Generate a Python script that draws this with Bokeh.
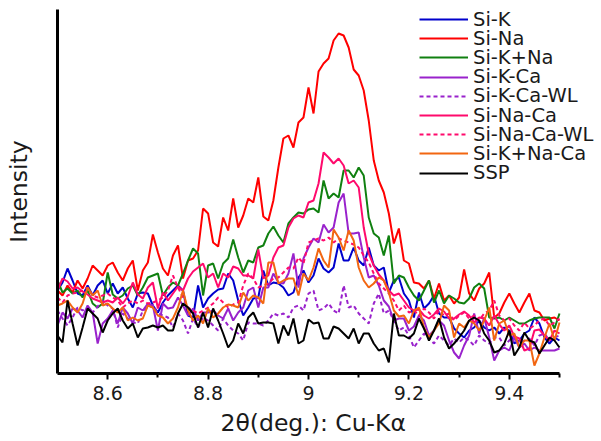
import numpy as np
from bokeh.plotting import figure
from bokeh.models import (Range1d, FixedTicker, CustomJSTickFormatter, Legend,
                          LegendItem, Title)
from bokeh.embed import file_html
from bokeh.resources import INLINE

# 2-theta scan grid (deg), step 0.01
two_theta = np.round(np.arange(8.50, 9.505, 0.01), 2)

si_k = [110, 118, 132, 120, 107, 105, 115, 105, 115, 120,
        107, 117, 107, 113, 102, 93, 107, 108, 107, 95,
        88, 98, 105, 110, 115, 110, 85, 83, 115, 93,
        102, 107, 111, 112, 127, 120, 100, 85, 93, 102,
        103, 130, 115, 118, 117, 113, 105, 108, 123, 130,
        118, 125, 142, 132, 128, 133, 157, 140, 140, 153,
        140, 135, 153, 135, 130, 133, 108, 120, 123, 107,
        100, 83, 108, 92, 97, 105, 87, 83, 83, 72,
        67, 63, 70, 73, 80, 73, 70, 73, 67, 73,
        70, 57, 60, 67, 70, 83, 77, 63, 57, 63, 60]

si_na = [110, 105, 115, 108, 120, 112, 122, 135, 130, 125,
         135, 138, 128, 120, 132, 140, 110, 130, 138, 166,
         148, 132, 125, 145, 155, 122, 140, 142, 150, 192,
         187, 158, 154, 183, 170, 202, 173, 185, 202, 198,
         223, 184, 180, 200, 233, 262, 265, 253, 278, 283,
         313, 287, 329, 337, 342, 360, 367, 365, 353, 331,
         325, 310, 280, 240, 220, 208, 187, 157, 172, 140,
         137, 118, 117, 112, 120, 102, 117, 100, 105, 97,
         103, 131, 107, 100, 112, 117, 128, 83, 87, 98,
         107, 97, 88, 98, 107, 90, 88, 80, 82, 83, 80]

si_k_na = [120, 108, 112, 107, 110, 103, 110, 97, 93, 97,
           128, 106, 102, 105, 112, 115, 105, 113, 123, 125,
           127, 105, 113, 118, 115, 127, 140, 152, 147, 105,
           135, 137, 122, 137, 142, 161, 143, 128, 140, 138,
           153, 155, 167, 174, 165, 158, 177, 183, 188, 187,
           191, 192, 188, 220, 202, 207, 203, 230, 230, 223,
           233, 225, 183, 167, 163, 145, 165, 117, 125, 123,
           113, 105, 100, 110, 120, 98, 110, 97, 105, 102,
           98, 97, 102, 113, 117, 112, 83, 82, 83, 80,
           83, 80, 77, 77, 80, 82, 83, 83, 83, 72, 87]

si_k_ca = [75, 88, 82, 92, 90, 83, 95, 88, 57, 77,
           82, 90, 77, 93, 87, 77, 93, 90, 97, 95,
           70, 97, 92, 93, 103, 95, 85, 92, 80, 88,
           88, 90, 85, 82, 92, 80, 88, 93, 110, 113,
           93, 113, 113, 127, 118, 117, 127, 147, 113, 142,
           153, 162, 158, 176, 168, 173, 198, 207, 167, 167,
           168, 143, 123, 125, 115, 100, 94, 80, 82, 82,
           70, 74, 85, 80, 65, 70, 80, 75, 60, 48,
           42, 55, 65, 87, 67, 83, 63, 40, 50, 53,
           50, 63, 53, 57, 50, 53, 50, 50, 50, 50, 52]

si_k_ca_wl = [90, 82, 75, 83, 93, 90, 93, 88, 94, 100,
              95, 92, 73, 87, 82, 78, 77, 90, 93, 95,
              87, 85, 83, 73, 87, 80, 67, 82, 73, 83,
              80, 75, 70, 82, 75, 70, 67, 60, 78, 77,
              77, 75, 80, 87, 85, 87, 83, 93, 95, 90,
              107, 110, 90, 92, 97, 90, 87, 115, 93, 95,
              87, 82, 77, 97, 107, 87, 90, 80, 70, 73,
              65, 53, 60, 67, 62, 57, 65, 60, 55, 62,
              58, 63, 60, 55, 65, 60, 57, 63, 63, 55,
              60, 65, 57, 60, 62, 55, 65, 67, 60, 63, 65]

si_na_ca = [110, 122, 119, 112, 113, 109, 106, 102, 100, 98,
            100, 98, 103, 97, 104, 118, 106, 102, 113, 118,
            92, 108, 100, 107, 114, 110, 122, 129, 133, 137,
            123, 127, 113, 127, 123, 134, 132, 125, 125, 122,
            151, 122, 125, 143, 153, 155, 173, 182, 185, 183,
            198, 200, 217, 248, 243, 237, 242, 235, 217, 220,
            213, 173, 147, 135, 126, 120, 110, 105, 107, 100,
            93, 90, 91, 85, 82, 86, 92, 89, 82, 82,
            86, 89, 85, 78, 83, 82, 75, 85, 76, 70,
            75, 64, 62, 50, 52, 70, 71, 65, 60, 70, 67]

si_na_ca_wl = [103, 98, 105, 107, 108, 110, 113, 105, 103, 105,
               107, 103, 100, 93, 97, 100, 97, 100, 97, 98,
               100, 103, 110, 125, 113, 103, 93, 90, 87, 90,
               93, 97, 103, 98, 93, 96, 98, 115, 127, 122,
               113, 115, 117, 122, 123, 128, 133, 132, 143, 137,
               158, 160, 162, 160, 163, 158, 162, 160, 158, 156,
               153, 145, 138, 127, 117, 112, 107, 100, 90, 95,
               88, 90, 85, 92, 88, 82, 90, 85, 87, 80,
               85, 88, 82, 85, 80, 87, 90, 100, 85, 80,
               82, 75, 70, 78, 72, 75, 80, 82, 75, 78, 82]

si_k_na_ca = [95, 97, 100, 93, 88, 97, 113, 105, 110, 95,
              97, 92, 88, 93, 80, 83, 80, 82, 95, 93,
              85, 83, 77, 82, 93, 110, 90, 80, 85, 77,
              92, 83, 87, 93, 96, 95, 93, 108, 100, 105,
              103, 97, 138, 138, 117, 120, 122, 122, 105, 127,
              120, 133, 152, 140, 133, 171, 163, 150, 170, 160,
              133, 120, 113, 117, 123, 120, 108, 90, 84, 85,
              77, 90, 93, 73, 63, 70, 77, 95, 90, 63,
              77, 73, 80, 77, 70, 80, 93, 60, 77, 80,
              65, 67, 53, 60, 60, 35, 47, 63, 77, 60, 78]

ssp = [65, 58, 100, 77, 55, 73, 92, 87, 82, 68,
       80, 87, 92, 80, 72, 77, 63, 72, 73, 75,
       73, 75, 70, 70, 87, 97, 93, 87, 73, 88,
       73, 92, 80, 67, 53, 60, 77, 67, 83, 88,
       77, 78, 78, 77, 57, 75, 65, 82, 57, 60,
       81, 77, 78, 62, 62, 74, 72, 67, 62, 72,
       57, 67, 67, 57, 50, 52, 38, 87, 65, 65,
       62, 67, 82, 72, 60, 70, 82, 63, 52, 57,
       63, 70, 80, 83, 80, 67, 60, 48, 50, 57,
       70, 45, 53, 68, 60, 58, 47, 55, 63, 60, 53]

labels = ["Si-K", "Si-Na", "Si-K+Na", "Si-K-Ca", "Si-K-Ca-WL",
          "Si-Na-Ca", "Si-Na-Ca-WL", "Si-K+Na-Ca", "SSP"]
series = [si_k, si_na, si_k_na, si_k_ca, si_k_ca_wl,
          si_na_ca, si_na_ca_wl, si_k_na_ca, ssp]
colors = ["#0000cc", "#ff0000", "#108010", "#9922cc", "#9922cc",
          "#ff0a6c", "#ff0a6c", "#f26611", "#000000"]
dashes = ["solid", "solid", "solid", "solid", "4 3",
          "solid", "4 3", "solid", "solid"]

FONT = "DejaVu Sans"
TXT = "#1a1a1a"

# frame spans x 57..600 px; the axis itself is drawn only over 8.5..9.5
p = figure(width=601, height=441, output_backend="svg", toolbar_location=None,
           x_range=Range1d(8.5, 8.5 + 543 / 502), y_range=Range1d(27, 391),
           min_border_left=57, min_border_top=9, min_border_right=1,
           min_border_bottom=68)
p.outline_line_color = None
p.xgrid.visible = False
p.ygrid.visible = False
p.background_fill_color = "white"
p.border_fill_color = "white"

renderers = []
for ys, col, dsh in zip(series, colors, dashes):
    r = p.line(two_theta, ys, line_color=col, line_width=2, line_dash=dsh)
    renderers.append(r)

xa = p.xaxis[0]
xa.bounds = (8.5, 9.5)
xa.ticker = FixedTicker(ticks=[8.6, 8.8, 9.0, 9.2, 9.4],
                        minor_ticks=[8.7, 8.9, 9.1, 9.3, 9.5])
xa.formatter = CustomJSTickFormatter(code="return String(Math.round(tick*10)/10)")
xa.axis_line_width = 3
xa.major_tick_line_width = 2
xa.minor_tick_line_width = 2
xa.major_tick_in = 0
xa.major_tick_out = 6
xa.minor_tick_in = 0
xa.minor_tick_out = 4
xa.major_label_standoff = 6
xa.major_label_text_font = FONT
xa.major_label_text_font_size = "19px"
xa.major_label_text_color = TXT

# x-axis title, placed under the middle of the 8.5..9.5 span of the axis
p.add_layout(Title(text="2θ(deg.): Cu-Kα", align="left", offset=163,
                   standoff=9, text_font=FONT, text_font_size="23.5px",
                   text_font_style="normal", text_color=TXT), "below")

ya = p.yaxis[0]
ya.ticker = FixedTicker(ticks=[])
ya.axis_line_width = 3
ya.major_tick_out = 0
ya.major_tick_in = 0
ya.minor_tick_out = 0
ya.minor_tick_in = 0
ya.major_label_text_font_size = "0px"
ya.axis_label = "Intensity"
ya.axis_label_text_font = FONT
ya.axis_label_text_font_size = "23.5px"
ya.axis_label_text_font_style = "normal"
ya.axis_label_text_color = TXT
ya.axis_label_standoff = 25

# one single-entry legend per series, stacked at a 19.2 px pitch
for k, (lab, r) in enumerate(zip(labels, renderers)):
    centre = 19 + 19.2 * k
    lg = Legend(items=[LegendItem(label=lab, renderers=[r])],
                location=(362, 361 - centre), padding=0, margin=0, spacing=0,
                border_line_color=None, background_fill_alpha=0,
                glyph_width=49, glyph_height=24, label_height=24,
                label_standoff=5, label_text_font=FONT,
                label_text_font_size="19.5px", label_text_color=TXT)
    p.add_layout(lg)

open("out.html", "w").write(file_html(p, INLINE))
